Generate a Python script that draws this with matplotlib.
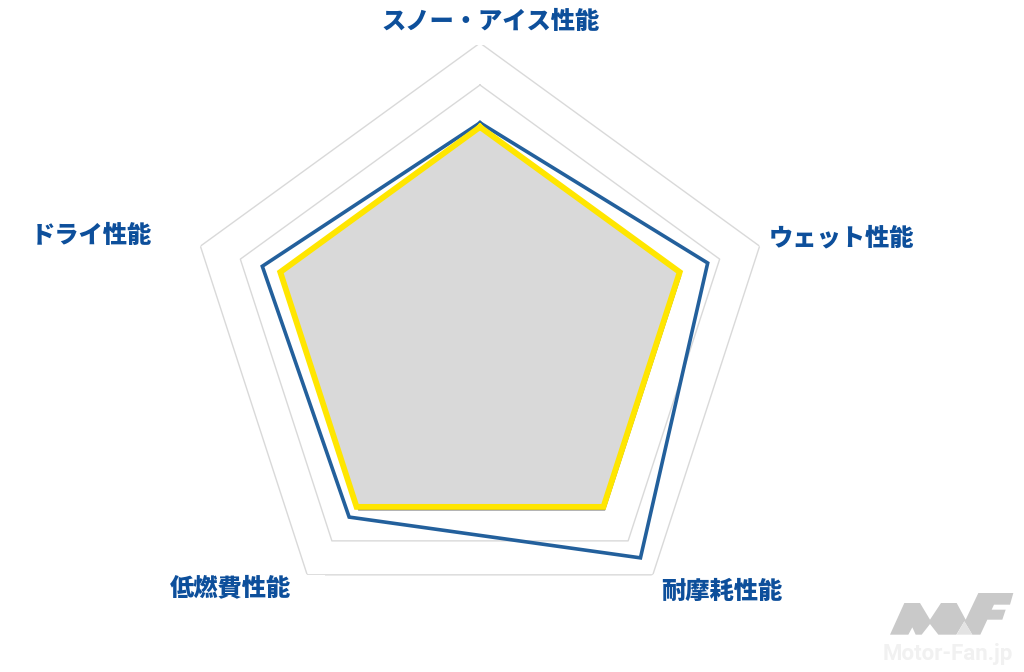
import numpy as np
import matplotlib
matplotlib.use("Agg")
import matplotlib.pyplot as plt
import matplotlib.patheffects as pe
from matplotlib.patches import Polygon, Rectangle

plt.rcParams['font.family'] = ['Noto Sans CJK JP', 'DejaVu Sans']

# ---- data ----
categories = ["スノー・アイス性能", "ウェット性能", "耐摩耗性能", "低燃費性能", "ドライ性能"]
new_tire = [101, 107, 115, 103, 104.5]
old_tire = [100, 100, 100, 100, 100]
fill_series = [100, 100, 100, 100, 100]
ring_values = [60, 70, 80, 90, 100, 110, 120]
r_min, r_max = 50, 120

W, H = 1024, 672
fig = plt.figure(figsize=(W / 100, H / 100), dpi=100)
fig.patch.set_facecolor("white")

cx, cy, R = 480, 337, 294
ax = fig.add_axes([(cx - R) / W, (H - cy - R) / H, 2 * R / W, 2 * R / H], projection="polar")
ax.set_theta_zero_location("N")
ax.set_theta_direction(-1)
ax.set_ylim(r_min, r_max)
ax.grid(False)
ax.spines["polar"].set_visible(False)
ax.set_xticks([])
ax.set_yticks([])
ax.patch.set_alpha(0)

n = len(categories)
theta = np.linspace(0, 2 * np.pi, n, endpoint=False)
tc = np.concatenate([theta, theta[:1]])

def closed(v):
    return np.concatenate([np.asarray(v, float), [v[0]]])

# grid rings
for rv in ring_values:
    ax.plot(tc, [rv] * (n + 1), color="#d9d9d9", lw=1.0, zorder=1)

# gray filled series with shadow
ax.fill(tc, closed(fill_series), facecolor="#d9d9d9", edgecolor="none", zorder=2,
        path_effects=[pe.SimplePatchShadow(offset=(1.2, -2.6), shadow_rgbFace="#6b6b6b", alpha=1.0),
                      pe.Normal()])

ax.plot(tc, closed(new_tire), color="#23609c", lw=2.6, zorder=3, solid_joinstyle="miter")
ax.plot(tc, closed(old_tire), color="#ffe600", lw=4.2, zorder=4, solid_joinstyle="miter")

# overlay in pixel coordinates
ov = fig.add_axes([0, 0, 1, 1], zorder=5)
ov.set_xlim(0, W)
ov.set_ylim(H, 0)
ov.axis("off")
ov.patch.set_alpha(0)

ov.add_patch(Rectangle((150, 574.6), 175, 45, facecolor="white", edgecolor="none"))
ov.add_patch(Rectangle((440, 28), 100, 16.5, facecolor="white", edgecolor="none"))

label_pos = [(491, 22), (841, 238), (722, 592), (231, 588), (91, 236)]
for lab, (x, y) in zip(categories, label_pos):
    ov.text(x, y, lab, ha="center", va="center", fontsize=17.5, fontweight="heavy",
            color="#0d4f9b")

# watermark logo
logo = [(45, 140), (88, 45), (135, 45), (165, 95), (198, 45), (245, 45), (272, 95),
        (310, 15), (415, 15), (405, 50), (357, 50), (350, 65), (392, 65), (382, 95),
        (337, 95), (316, 140), (292, 140), (268, 100), (244, 140), (220, 140),
        (190, 140), (165, 108), (140, 140), (122, 140), (112, 118), (100, 140)]
logo_px = [(875 + x / 3, 588 + y / 3) for x, y in logo]
ov.add_patch(Polygon(logo_px, closed=True, facecolor="#c9c9c9", edgecolor="none"))
tri = [(875 + 245 / 3, 588 + 140 / 3), (875 + 268 / 3, 588 + 100 / 3), (875 + 292 / 3, 588 + 140 / 3)]
ov.add_patch(Polygon(tri, closed=True, facecolor="#e3e3e3", edgecolor="none"))
ov.text(948, 654, "Motor-Fan.jp", ha="center", va="center", fontsize=16, fontweight="bold",
        color="#f1f1f1", family=["Roboto", "DejaVu Sans"])

fig.savefig("out.png", dpi=100, facecolor="white")
